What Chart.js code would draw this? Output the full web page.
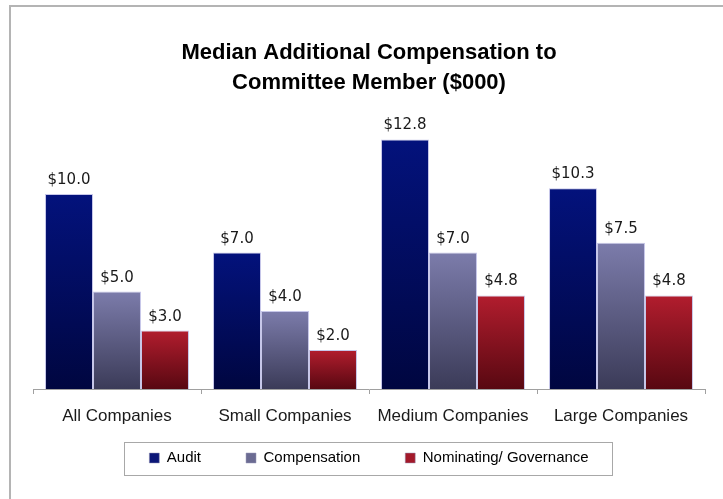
<!DOCTYPE html>
<html>
<head>
<meta charset="utf-8">
<script src="https://cdn.jsdelivr.net/npm/chart.js@4"></script>
<style>
  html, body { margin: 0; padding: 0; background: #fff; }
  #wrap { width: 723px; height: 499px; }
</style>
</head>
<body>
<div id="wrap"><canvas id="compChart" width="723" height="499"></canvas></div>
<script>
const categories = ['All Companies', 'Small Companies', 'Medium Companies', 'Large Companies'];
const seriesNames = ['Audit', 'Compensation', 'Nominating/ Governance'];
const auditValues = [10.0, 7.0, 12.8, 10.3];
const compensationValues = [5.0, 4.0, 7.0, 7.5];
const nominatingValues = [3.0, 2.0, 4.8, 4.8];

// top and bottom colour of each bar gradient
const gradientStops = [
    ['#03127c', '#000640'],
    ['#7c7cab', '#3b3b58'],
    ['#b21d2e', '#580811']
];
const legendColors = ['#0b1677', '#6b6b92', '#a3192a'];

function barGradient(i) {
    return function(context) {
        const chart = context.chart;
        if (!chart.chartArea || context.type !== 'data') return gradientStops[i][0];
        const y = chart.scales.y;
        const top = y.getPixelForValue(context.raw);
        const bottom = y.getPixelForValue(0);
        const g = chart.ctx.createLinearGradient(0, top, 0, bottom);
        g.addColorStop(0, gradientStops[i][0]);
        g.addColorStop(1, gradientStops[i][1]);
        return g;
    };
}

const frame = {
    id: 'frame',
    afterLayout(chart) {
        // the legend uses a wide item padding, which also makes it tall;
        // move its box up so the items sit where they should
        const lg = chart.legend;
        lg.top = 405.5;
        lg.bottom = 478;
        lg.height = lg.bottom - lg.top;
    },
    beforeDraw(chart) {
        const ctx = chart.ctx;
        ctx.save();
        ctx.strokeStyle = '#b4b4b4';
        ctx.lineWidth = 2;
        ctx.beginPath();
        ctx.moveTo(10, 499);
        ctx.lineTo(10, 6);
        ctx.lineTo(723, 6);
        ctx.stroke();
        ctx.restore();
    },
    afterDraw(chart) {
        // box round the legend items
        const boxes = chart.legend.legendHitBoxes;
        const first = boxes[0], last = boxes[boxes.length - 1];
        const left = Math.round(first.left - 25);
        const right = Math.round(last.left + last.width + 23);
        const top = Math.round(first.top - 8.5);
        const bottom = Math.round(first.top + 24.5);
        const ctx = chart.ctx;
        ctx.save();
        ctx.strokeStyle = '#a8a8a8';
        ctx.lineWidth = 1;
        ctx.strokeRect(left + 0.5, top + 0.5, right - left, bottom - top);
        ctx.restore();
    }
};

const valueLabels = {
    id: 'valueLabels',
    afterDatasetsDraw(chart) {
        const ctx = chart.ctx;
        ctx.save();
        ctx.font = '15px "DejaVu Sans"';
        ctx.fillStyle = '#1a1a1a';
        ctx.textAlign = 'center';
        ctx.textBaseline = 'alphabetic';
        chart.data.datasets.forEach(function(ds, i) {
            chart.getDatasetMeta(i).data.forEach(function(bar, j) {
                ctx.fillText('$' + ds.data[j].toFixed(1), bar.x, bar.y - 10);
            });
        });
        ctx.restore();
    }
};

const compData = {
    labels: categories,
    datasets: [
        { label: seriesNames[0], data: auditValues, backgroundColor: barGradient(0) },
        { label: seriesNames[1], data: compensationValues, backgroundColor: barGradient(1) },
        { label: seriesNames[2], data: nominatingValues, backgroundColor: barGradient(2) }
    ].map(function(ds) {
        ds.borderColor = 'rgba(196,196,232,0.95)';
        ds.borderWidth = 1;
        ds.categoryPercentage = 0.857;
        ds.barPercentage = 1;
        return ds;
    })
};

const configComp = {
    type: 'bar',
    data: compData,
    plugins: [frame, valueLabels],
    options: {
        responsive: false,
        animation: false,
        layout: { padding: { top: 0, left: 33, right: 18, bottom: 23 } },
        plugins: {
            title: {
                display: true,
                text: ['Median Additional Compensation to', 'Committee Member ($000)'],
                color: '#000',
                font: { family: '"Liberation Sans"', size: 22, weight: 'bold', lineHeight: 1.364 },
                padding: { top: 38, bottom: 18 }
            },
            legend: {
                position: 'bottom',
                maxHeight: 35,
                labels: {
                    font: { family: '"Liberation Sans"', size: 15 },
                    color: '#111',
                    boxWidth: 10,
                    boxHeight: 10,
                    padding: 45,
                    generateLabels: function(chart) {
                        return chart.data.datasets.map(function(ds, i) {
                            return {
                                text: ds.label,
                                fillStyle: legendColors[i],
                                strokeStyle: '#9a9ab8',
                                lineWidth: 0.5,
                                datasetIndex: i
                            };
                        });
                    }
                }
            },
            tooltip: { enabled: false }
        },
        scales: {
            x: {
                grid: {
                    offset: true,
                    drawOnChartArea: false,
                    drawTicks: true,
                    tickLength: 5,
                    color: '#a0a0a0'
                },
                border: { color: '#a0a0a0', width: 1 },
                ticks: {
                    color: '#1a1a1a',
                    padding: 12,
                    font: { family: '"Liberation Sans"', size: 17 }
                },
                afterFit: function(scale) { scale.height = 52; }
            },
            y: {
                display: false,
                min: 0,
                max: 14
            }
        }
    }
};

const compChart = new Chart(
    document.getElementById('compChart'),
    configComp
);
</script>
</body>
</html>
